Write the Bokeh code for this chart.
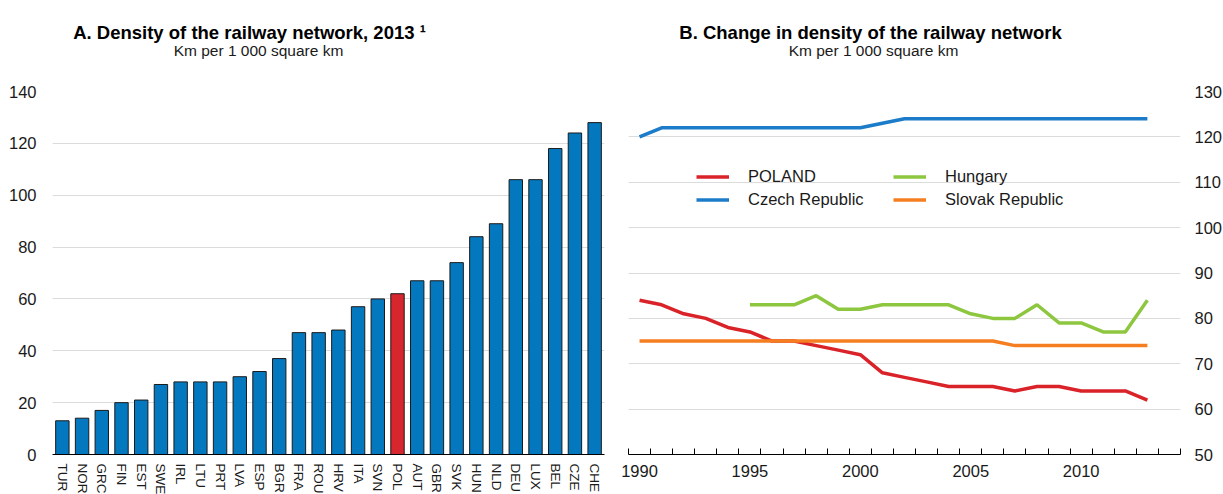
from bokeh.plotting import figure
from bokeh.models import (FactorRange, Range1d, FixedTicker, Legend,
                          LegendItem, ColumnDataSource)
from bokeh.core.properties import value
from bokeh.layouts import row, column
from bokeh.embed import file_html
from bokeh.resources import INLINE

# ---------------- data ----------------
countries = ["TUR", "NOR", "GRC", "FIN", "EST", "SWE", "IRL", "LTU", "PRT", "LVA",
             "ESP", "BGR", "FRA", "ROU", "HRV", "ITA", "SVN", "POL", "AUT", "GBR",
             "SVK", "HUN", "NLD", "DEU", "LUX", "BEL", "CZE", "CHE"]
density_2013 = [13, 14, 17, 20, 21, 27, 28, 28, 28, 30,
                32, 37, 47, 47, 48, 57, 60, 62, 67, 67,
                74, 84, 89, 106, 106, 118, 124, 128]
highlight = "POL"

years = list(range(1990, 2014))
poland = [84, 83, 81, 80, 78, 77, 75, 75, 74, 73, 72, 68,
          67, 66, 65, 65, 65, 64, 65, 65, 64, 64, 64, 62]
czech = [120, 122, 122, 122, 122, 122, 122, 122, 122, 122, 122, 123,
         124, 124, 124, 124, 124, 124, 124, 124, 124, 124, 124, 124]
years_hungary = list(range(1995, 2014))
hungary = [83, 83, 83, 85, 82, 82, 83, 83, 83, 83, 81, 80, 80, 83, 79, 79, 77, 77, 84]
slovak = [75, 75, 75, 75, 75, 75, 75, 75, 75, 75, 75, 75,
          75, 75, 75, 75, 75, 74, 74, 74, 74, 74, 74, 74]

y_ticks_a = [0, 20, 40, 60, 80, 100, 120, 140]
y_ticks_b = [50, 60, 70, 80, 90, 100, 110, 120, 130]
year_labels = [1990, 1995, 2000, 2005, 2010]
year_edges = [y - 0.5 for y in range(1990, 2016)]

title_a = "A. Density of the railway network, 2013 \u00b9"
title_b = "B. Change in density of the railway network"
subtitle = "Km per 1 000 square km"

# ---------------- styles ----------------
FONT = "Liberation Sans"
TXT = "#1a1a1a"
BLUE_BAR = "#0478bf"
RED_BAR = "#d7262d"
GRID = "#dcdcdc"
C_POL = "#da2229"
C_CZE = "#1c7cc9"
C_HUN = "#8dc63f"
C_SVK = "#f57e20"
PAGE_W = 1223
HDR_H = 64
FRAME_TOP = 91
FRAME_H = 363
BOTTOM = 40

# ---------------- header with the panel titles ----------------
hdr = figure(width=PAGE_W, height=HDR_H,
             x_range=Range1d(0, PAGE_W), y_range=Range1d(HDR_H, 0),
             x_axis_type=None, y_axis_type=None,
             min_border=0, outline_line_color=None,
             output_backend="svg", toolbar_location=None)
hdr.grid.visible = False
hdr.text(x=[249, 870], y=[32, 32], text=[title_a, title_b],
         text_align="center", text_baseline="middle",
         text_font=value(FONT), text_font_size="18.5px",
         text_font_style="bold", text_color="#000000")
hdr.text(x=[258, 873], y=[50, 50], text=[subtitle, subtitle],
         text_align="center", text_baseline="middle",
         text_font=value(FONT), text_font_size="15.5px",
         text_color=TXT)

# ---------------- panel A ----------------
src = ColumnDataSource(dict(
    country=countries,
    value=density_2013,
    color=[RED_BAR if c == highlight else BLUE_BAR for c in countries],
))

p1 = figure(x_range=FactorRange(factors=countries, range_padding=0),
            y_range=Range1d(0, 140),
            frame_width=552, frame_height=FRAME_H,
            min_border_left=52, min_border_right=12,
            min_border_top=FRAME_TOP - HDR_H, min_border_bottom=BOTTOM,
            output_backend="svg", toolbar_location=None)
p1.vbar(x="country", top="value", width=0.68, source=src,
        fill_color="color", line_color="#1a1a1a", line_width=1)

p1.outline_line_color = None
p1.xgrid.grid_line_color = None
p1.ygrid.grid_line_color = GRID
p1.ygrid.ticker = FixedTicker(ticks=y_ticks_a)
p1.xaxis.major_label_orientation = "vertical"
p1.xaxis.major_tick_line_color = None
p1.xaxis.minor_tick_line_color = None
p1.xaxis.axis_line_color = "#000000"
p1.xaxis.major_label_text_font = FONT
p1.xaxis.major_label_text_font_size = "13.5px"
p1.xaxis.major_label_text_color = TXT
p1.xaxis.major_label_standoff = 3
p1.yaxis.ticker = FixedTicker(ticks=y_ticks_a)
p1.yaxis.axis_line_color = None
p1.yaxis.major_tick_line_color = None
p1.yaxis.minor_tick_line_color = None
p1.yaxis.major_label_text_font = FONT
p1.yaxis.major_label_text_font_size = "16.5px"
p1.yaxis.major_label_text_color = TXT
p1.yaxis.major_label_standoff = 10

# ---------------- panel B ----------------
p2 = figure(x_range=Range1d(1989.5, 2014.5), y_range=Range1d(50, 130),
            y_axis_location="right",
            frame_width=552, frame_height=FRAME_H,
            min_border_left=12, min_border_right=42,
            min_border_top=FRAME_TOP - HDR_H, min_border_bottom=BOTTOM,
            output_backend="svg", toolbar_location=None)

r_pol = p2.line(years, poland, line_color=C_POL, line_width=3.5)
r_cze = p2.line(years, czech, line_color=C_CZE, line_width=3.5)
r_hun = p2.line(years_hungary, hungary, line_color=C_HUN, line_width=3.5)
r_svk = p2.line(years, slovak, line_color=C_SVK, line_width=3.5)

p2.outline_line_color = None
p2.xgrid.grid_line_color = None
p2.ygrid.grid_line_color = GRID
p2.ygrid.ticker = FixedTicker(ticks=y_ticks_b)
p2.xaxis.ticker = FixedTicker(ticks=year_labels, minor_ticks=year_edges)
p2.xaxis.major_tick_line_color = None
p2.xaxis.minor_tick_in = 6
p2.xaxis.minor_tick_out = 0
p2.xaxis.minor_tick_line_color = "#000000"
p2.xaxis.axis_line_color = "#000000"
p2.xaxis.major_label_text_font = FONT
p2.xaxis.major_label_text_font_size = "16.5px"
p2.xaxis.major_label_text_color = TXT
p2.xaxis.major_label_standoff = 4
p2.yaxis.ticker = FixedTicker(ticks=y_ticks_b)
p2.yaxis.axis_line_color = None
p2.yaxis.major_tick_line_color = None
p2.yaxis.minor_tick_line_color = None
p2.yaxis.major_label_text_font = FONT
p2.yaxis.major_label_text_font_size = "16.5px"
p2.yaxis.major_label_text_color = TXT
p2.yaxis.major_label_standoff = 8


def make_legend(items, loc):
    return Legend(items=items, location=loc, orientation="vertical",
                  background_fill_alpha=0, border_line_color=None,
                  padding=0, margin=0, spacing=0,
                  glyph_width=33, glyph_height=23, label_height=23,
                  label_standoff=19, label_text_font=FONT,
                  label_text_font_size="16.5px", label_text_color=TXT)


leg1 = make_legend([LegendItem(label="POLAND", renderers=[r_pol]),
                    LegendItem(label="Czech Republic", renderers=[r_cze])], (68, 243))
leg2 = make_legend([LegendItem(label="Hungary", renderers=[r_hun]),
                    LegendItem(label="Slovak Republic", renderers=[r_svk])], (265, 243))
p2.add_layout(leg1)
p2.add_layout(leg2)

layout = column(hdr, row(p1, p2))
open("out.html", "w").write(file_html(layout, INLINE))
